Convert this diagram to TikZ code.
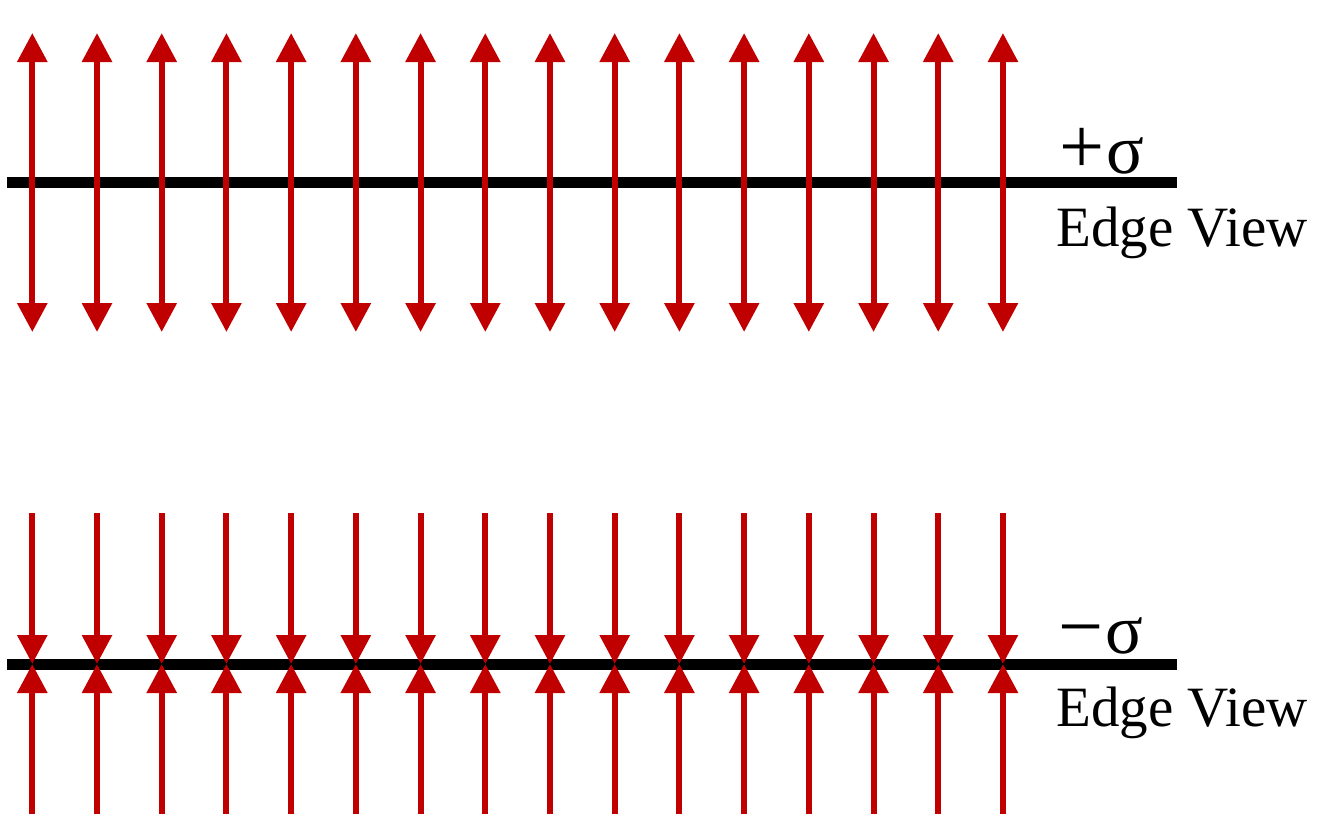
\documentclass[tikz,border=0pt]{standalone}
\usepackage{fontspec}
\setmainfont{Liberation Serif}
\usetikzlibrary{arrows.meta}
\definecolor{fieldred}{HTML}{C00000}
\newcommand{\sgnfont}{\fontsize{80}{84}\selectfont}
\newcommand{\sigfont}{\fontsize{70}{74}\selectfont}
\begin{document}
\begin{tikzpicture}[x=1pt,y=-1pt,
  sheet/.style={line width=11pt, black},
  field/.style={line width=6pt, fieldred},
  tipend/.style={-{Triangle[width=29pt,length=29pt]}},
  tipboth/.style={{Triangle[width=29pt,length=29pt]}-{Triangle[width=29pt,length=29pt]}},
  lbl/.style={anchor=base west, inner sep=0pt, font=\fontsize{57}{60}\selectfont},
  sig/.style={anchor=base west, inner sep=0pt}]
\useasboundingbox (0,0) rectangle (1337,814);
% top sheet
\coordinate (tl) at (7,182.5);
\coordinate (tr) at (1176.5,182.5);
\draw[sheet] (tl) -- (tr);
% bottom sheet
\coordinate (bl) at (7,664);
\coordinate (br) at (1176.5,664);
\draw[sheet] (bl) -- (br);
\foreach \i in {0,...,15} {
  \pgfmathsetmacro\xx{32.3+64.71*\i}
  \coordinate (ta\i) at (\xx,33);
  \coordinate (tb\i) at (\xx,332);
  \draw[field,tipboth] (tb\i) -- (ta\i);
  \coordinate (ba\i) at (\xx,513);
  \coordinate (bm\i) at (\xx,664);
  \coordinate (bb\i) at (\xx,814);
  \draw[field,tipend] (ba\i) -- (bm\i);
  \draw[field,tipend] (bb\i) -- (bm\i);
}
\node[sig] (ps) at (1059,173) {{\sgnfont +}\hspace{2pt}{\sigfont σ}};
\node[lbl] (ev1) at (1056,246.7) {Edge View};
\node[sig] (ms) at (1058,653.3) {{\sgnfont −}\hspace{2pt}{\sigfont σ}};
\node[lbl] (ev2) at (1056,726.7) {Edge View};
\end{tikzpicture}
\end{document}
